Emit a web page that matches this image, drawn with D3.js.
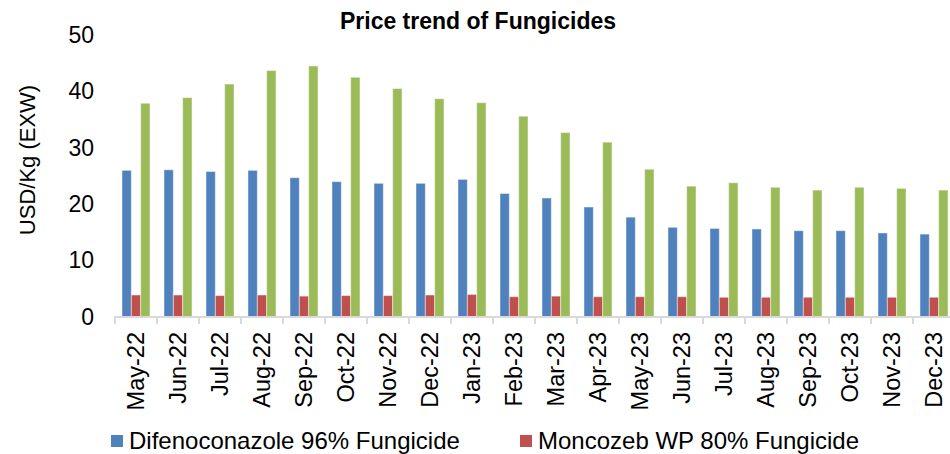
<!DOCTYPE html>
<html>
<head>
<meta charset="utf-8">
<script src="https://cdn.jsdelivr.net/npm/d3@7"></script>
<style>
  body { margin: 0; background: #fff; }
  svg { display: block; font-family: "Liberation Sans", Arial, sans-serif; }
</style>
</head>
<body>
<div id="chart"></div>
<script>
var months = ["May-22", "Jun-22", "Jul-22", "Aug-22", "Sep-22", "Oct-22", "Nov-22", "Dec-22",
    "Jan-23", "Feb-23", "Mar-23", "Apr-23", "May-23", "Jun-23", "Jul-23", "Aug-23",
    "Sep-23", "Oct-23", "Nov-23", "Dec-23"];
var difenoconazole = [26.0, 26.1, 25.8, 26.0, 24.7, 24.0, 23.7, 23.7, 24.4, 21.9,
    21.1, 19.5, 17.7, 15.9, 15.7, 15.6, 15.3, 15.3, 14.9, 14.7];
var moncozeb = [3.9, 3.9, 3.8, 3.9, 3.7, 3.8, 3.8, 3.9, 4.0, 3.6,
    3.7, 3.6, 3.6, 3.6, 3.5, 3.5, 3.5, 3.5, 3.5, 3.5];
var thirdSeries = [37.9, 38.9, 41.3, 43.7, 44.5, 42.5, 40.5, 38.7, 38.0, 35.6,
    32.7, 31.0, 26.2, 23.2, 23.8, 23.0, 22.5, 23.0, 22.8, 22.5];
var yTicks = [0, 10, 20, 30, 40, 50];

// the 3rd legend entry falls outside the picture, so only two are drawn
var seriesNames = ["Difenoconazole 96% Fungicide", "Moncozeb WP 80% Fungicide"];
var colors = ["#4f81bd", "#c0504d", "#9bbb59"];
var allSeries = [difenoconazole, moncozeb, thirdSeries];

var width = 950, height = 454;

var svg = d3.select("#chart").append("svg")
    .attr("width", width)
    .attr("height", height);

var x = d3.scaleBand().domain(months).range([115, 955]);
var xInner = d3.scaleBand().domain(d3.range(3))
    .range([x.bandwidth() / 6, x.bandwidth() * 5 / 6]);
var y = d3.scaleLinear().domain([0, 50]).range([317, 35]);

// title
svg.append("text")
    .attr("x", 478)
    .attr("y", 29)
    .attr("text-anchor", "middle")
    .attr("font-size", "23px")
    .attr("font-weight", "bold")
    .text("Price trend of Fungicides");

// y axis labels
var yAxis = svg.append("g")
    .attr("transform", "translate(94,0)")
    .call(d3.axisLeft(y).tickValues(yTicks).tickSize(0).tickPadding(0));
yAxis.select(".domain").remove();
yAxis.selectAll("text").attr("font-size", "23px").attr("fill", "#000")
    .attr("font-family", "Liberation Sans, Arial, sans-serif");

svg.append("text")
    .attr("transform", "translate(35,160) rotate(-90)")
    .attr("text-anchor", "middle")
    .attr("font-size", "22px")
    .text("USD/Kg (EXW)");

// bars
var groups = svg.selectAll(".month")
    .data(months)
    .enter().append("g")
    .attr("class", "month")
    .attr("transform", function(d) { return "translate(" + x(d) + ",0)"; });

groups.selectAll("rect")
    .data(function(d, i) {
        return allSeries.map(function(s, k) { return { k: k, v: s[i] }; });
    })
    .enter().append("rect")
    .attr("x", function(d) { return xInner(d.k); })
    .attr("width", xInner.bandwidth())
    .attr("y", function(d) { return y(d.v); })
    .attr("height", function(d) { return y(0) - y(d.v); })
    .attr("fill", function(d) { return colors[d.k]; })
    .attr("stroke", "rgba(255,255,255,0.45)")
    .attr("stroke-width", 1);

// x axis
var xAxis = svg.append("g")
    .attr("transform", "translate(0," + y(0) + ")");
xAxis.append("line")
    .attr("x1", 114).attr("x2", 955)
    .attr("stroke", "#d9d9d9").attr("stroke-width", 2);
xAxis.selectAll(".tick")
    .data(months)
    .enter().append("line")
    .attr("x1", function(d) { return x(d); })
    .attr("x2", function(d) { return x(d); })
    .attr("y1", 0).attr("y2", 7)
    .attr("stroke", "#d9d9d9").attr("stroke-width", 2);
xAxis.selectAll(".lbl")
    .data(months)
    .enter().append("text")
    .attr("class", "lbl")
    .attr("transform", function(d) {
        return "translate(" + (x(d) + x.bandwidth() / 2) + ",15) rotate(-90)";
    })
    .attr("dy", "0.35em")
    .attr("text-anchor", "end")
    .attr("font-size", "23.5px")
    .text(function(d) { return d; });

// legend
var legendX = [111, 520];
var legend = svg.selectAll(".legend")
    .data(seriesNames)
    .enter().append("g")
    .attr("class", "legend")
    .attr("transform", function(d, i) { return "translate(" + legendX[i] + ",435)"; });
legend.append("rect")
    .attr("width", 12).attr("height", 12)
    .attr("fill", function(d, i) { return colors[i]; });
legend.append("text")
    .attr("x", 18)
    .attr("y", 14)
    .attr("font-size", "24px")
    .text(function(d) { return d; });
</script>
</body>
</html>
